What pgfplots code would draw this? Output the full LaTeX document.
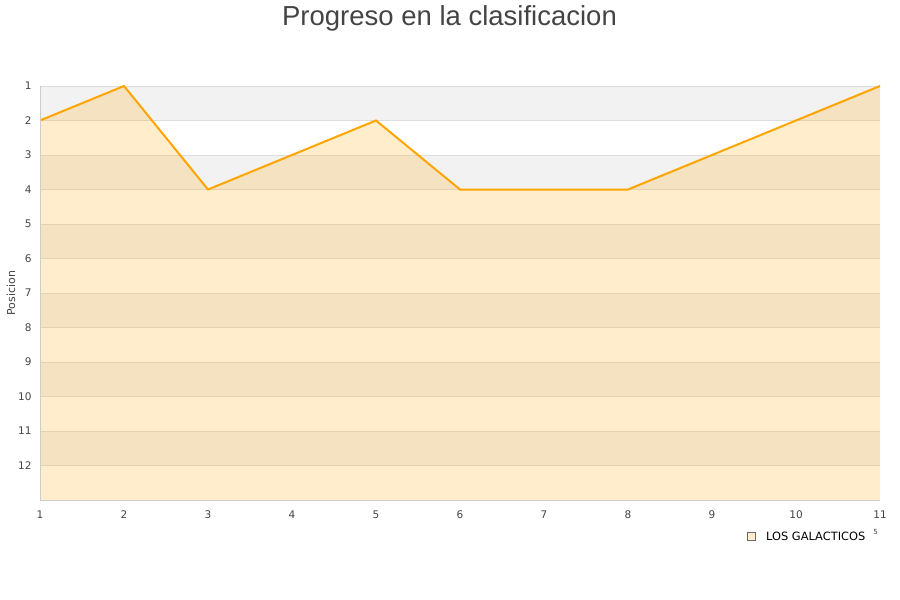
\documentclass[border=0pt]{standalone}
\usepackage{pgfplots}
\pgfplotsset{compat=1.18}
\usepackage{fontspec}
\setmainfont{DejaVu Sans}
\newfontfamily\titlefont{Liberation Sans}
\definecolor{lineorange}{HTML}{FFA500}
\definecolor{bandgray}{HTML}{F2F2F2}
\definecolor{gridgray}{HTML}{DDDDDD}
\definecolor{axisgray}{HTML}{CCCCCC}
\definecolor{ticktext}{HTML}{444444}

\pgfplotstableread{
jornada pos
1 2
2 1
3 4
4 3
5 2
6 4
7 4
8 4
9 3
10 2
11 1
}\posdata

\begin{document}
\begin{tikzpicture}
\path[use as bounding box] (0pt,0pt) rectangle (900pt,600pt);
\node[font=\titlefont\fontsize{27.5}{32}\selectfont, text=ticktext] at (449.5pt,582pt) {Progreso en la clasificacion};
\node[rotate=90, font=\fontsize{11}{13}\selectfont, text=ticktext] at (11pt,307pt) {Posicion};
\begin{axis}[
  at={(40pt,100pt)}, anchor=south west,
  scale only axis, width=840pt, height=414pt,
  xmin=1, xmax=11, ymin=1, ymax=13,
  y dir=reverse,
  axis line style={draw=none},
  xtick={1,...,11}, ytick={1,...,12},
  major tick length=0pt,
  tick label style={font=\fontsize{10.5}{12}\selectfont, text=ticktext},
  /pgf/number format/assume math mode=true,
  xticklabel style={yshift=-7pt},
  yticklabel style={xshift=-5pt},
  clip=false,
]
% alternating background bands
\fill[bandgray] (axis cs:1,1) rectangle (axis cs:11,2);
\fill[bandgray] (axis cs:1,3) rectangle (axis cs:11,4);
\fill[bandgray] (axis cs:1,5) rectangle (axis cs:11,6);
\fill[bandgray] (axis cs:1,7) rectangle (axis cs:11,8);
\fill[bandgray] (axis cs:1,9) rectangle (axis cs:11,10);
\fill[bandgray] (axis cs:1,11) rectangle (axis cs:11,12);
% horizontal grid lines, beneath the filled area
\draw[gridgray, line width=0.8pt] (axis cs:1,1) -- (axis cs:11,1);
\draw[gridgray, line width=0.8pt] (axis cs:1,2) -- (axis cs:11,2);
\draw[gridgray, line width=0.8pt] (axis cs:1,3) -- (axis cs:11,3);
\draw[gridgray, line width=0.8pt] (axis cs:1,4) -- (axis cs:11,4);
\draw[gridgray, line width=0.8pt] (axis cs:1,5) -- (axis cs:11,5);
\draw[gridgray, line width=0.8pt] (axis cs:1,6) -- (axis cs:11,6);
\draw[gridgray, line width=0.8pt] (axis cs:1,7) -- (axis cs:11,7);
\draw[gridgray, line width=0.8pt] (axis cs:1,8) -- (axis cs:11,8);
\draw[gridgray, line width=0.8pt] (axis cs:1,9) -- (axis cs:11,9);
\draw[gridgray, line width=0.8pt] (axis cs:1,10) -- (axis cs:11,10);
\draw[gridgray, line width=0.8pt] (axis cs:1,11) -- (axis cs:11,11);
\draw[gridgray, line width=0.8pt] (axis cs:1,12) -- (axis cs:11,12);
% area under the position line
\addplot[draw=none, fill=lineorange, fill opacity=0.2] coordinates {
  (1,13) (1,2) (2,1) (3,4) (4,3) (5,2) (6,4) (7,4) (8,4) (9,3) (10,2) (11,1) (11,13)
} -- cycle;
\addplot[lineorange, line width=2pt, line join=miter] table[x=jornada, y=pos] {\posdata};
\draw[axisgray, line width=1pt] (axis cs:1,1) -- (axis cs:1,13) -- (axis cs:11,13);
\end{axis}
% legend
\fill[lineorange, fill opacity=0.2] (747.5pt,59.5pt) rectangle (755.5pt,67.5pt);
\draw[ticktext!80, line width=0.6pt] (747.5pt,59.5pt) rectangle (755.5pt,67.5pt);
\node[anchor=west, font=\fontsize{11.4}{13}\selectfont, inner sep=0pt] at (766pt,63.5pt) {LOS GALACTICOS};
\node[font=\fontsize{7}{8}\selectfont, text=ticktext, inner sep=0pt] at (875.5pt,68.5pt) {5};
\end{tikzpicture}
\end{document}
